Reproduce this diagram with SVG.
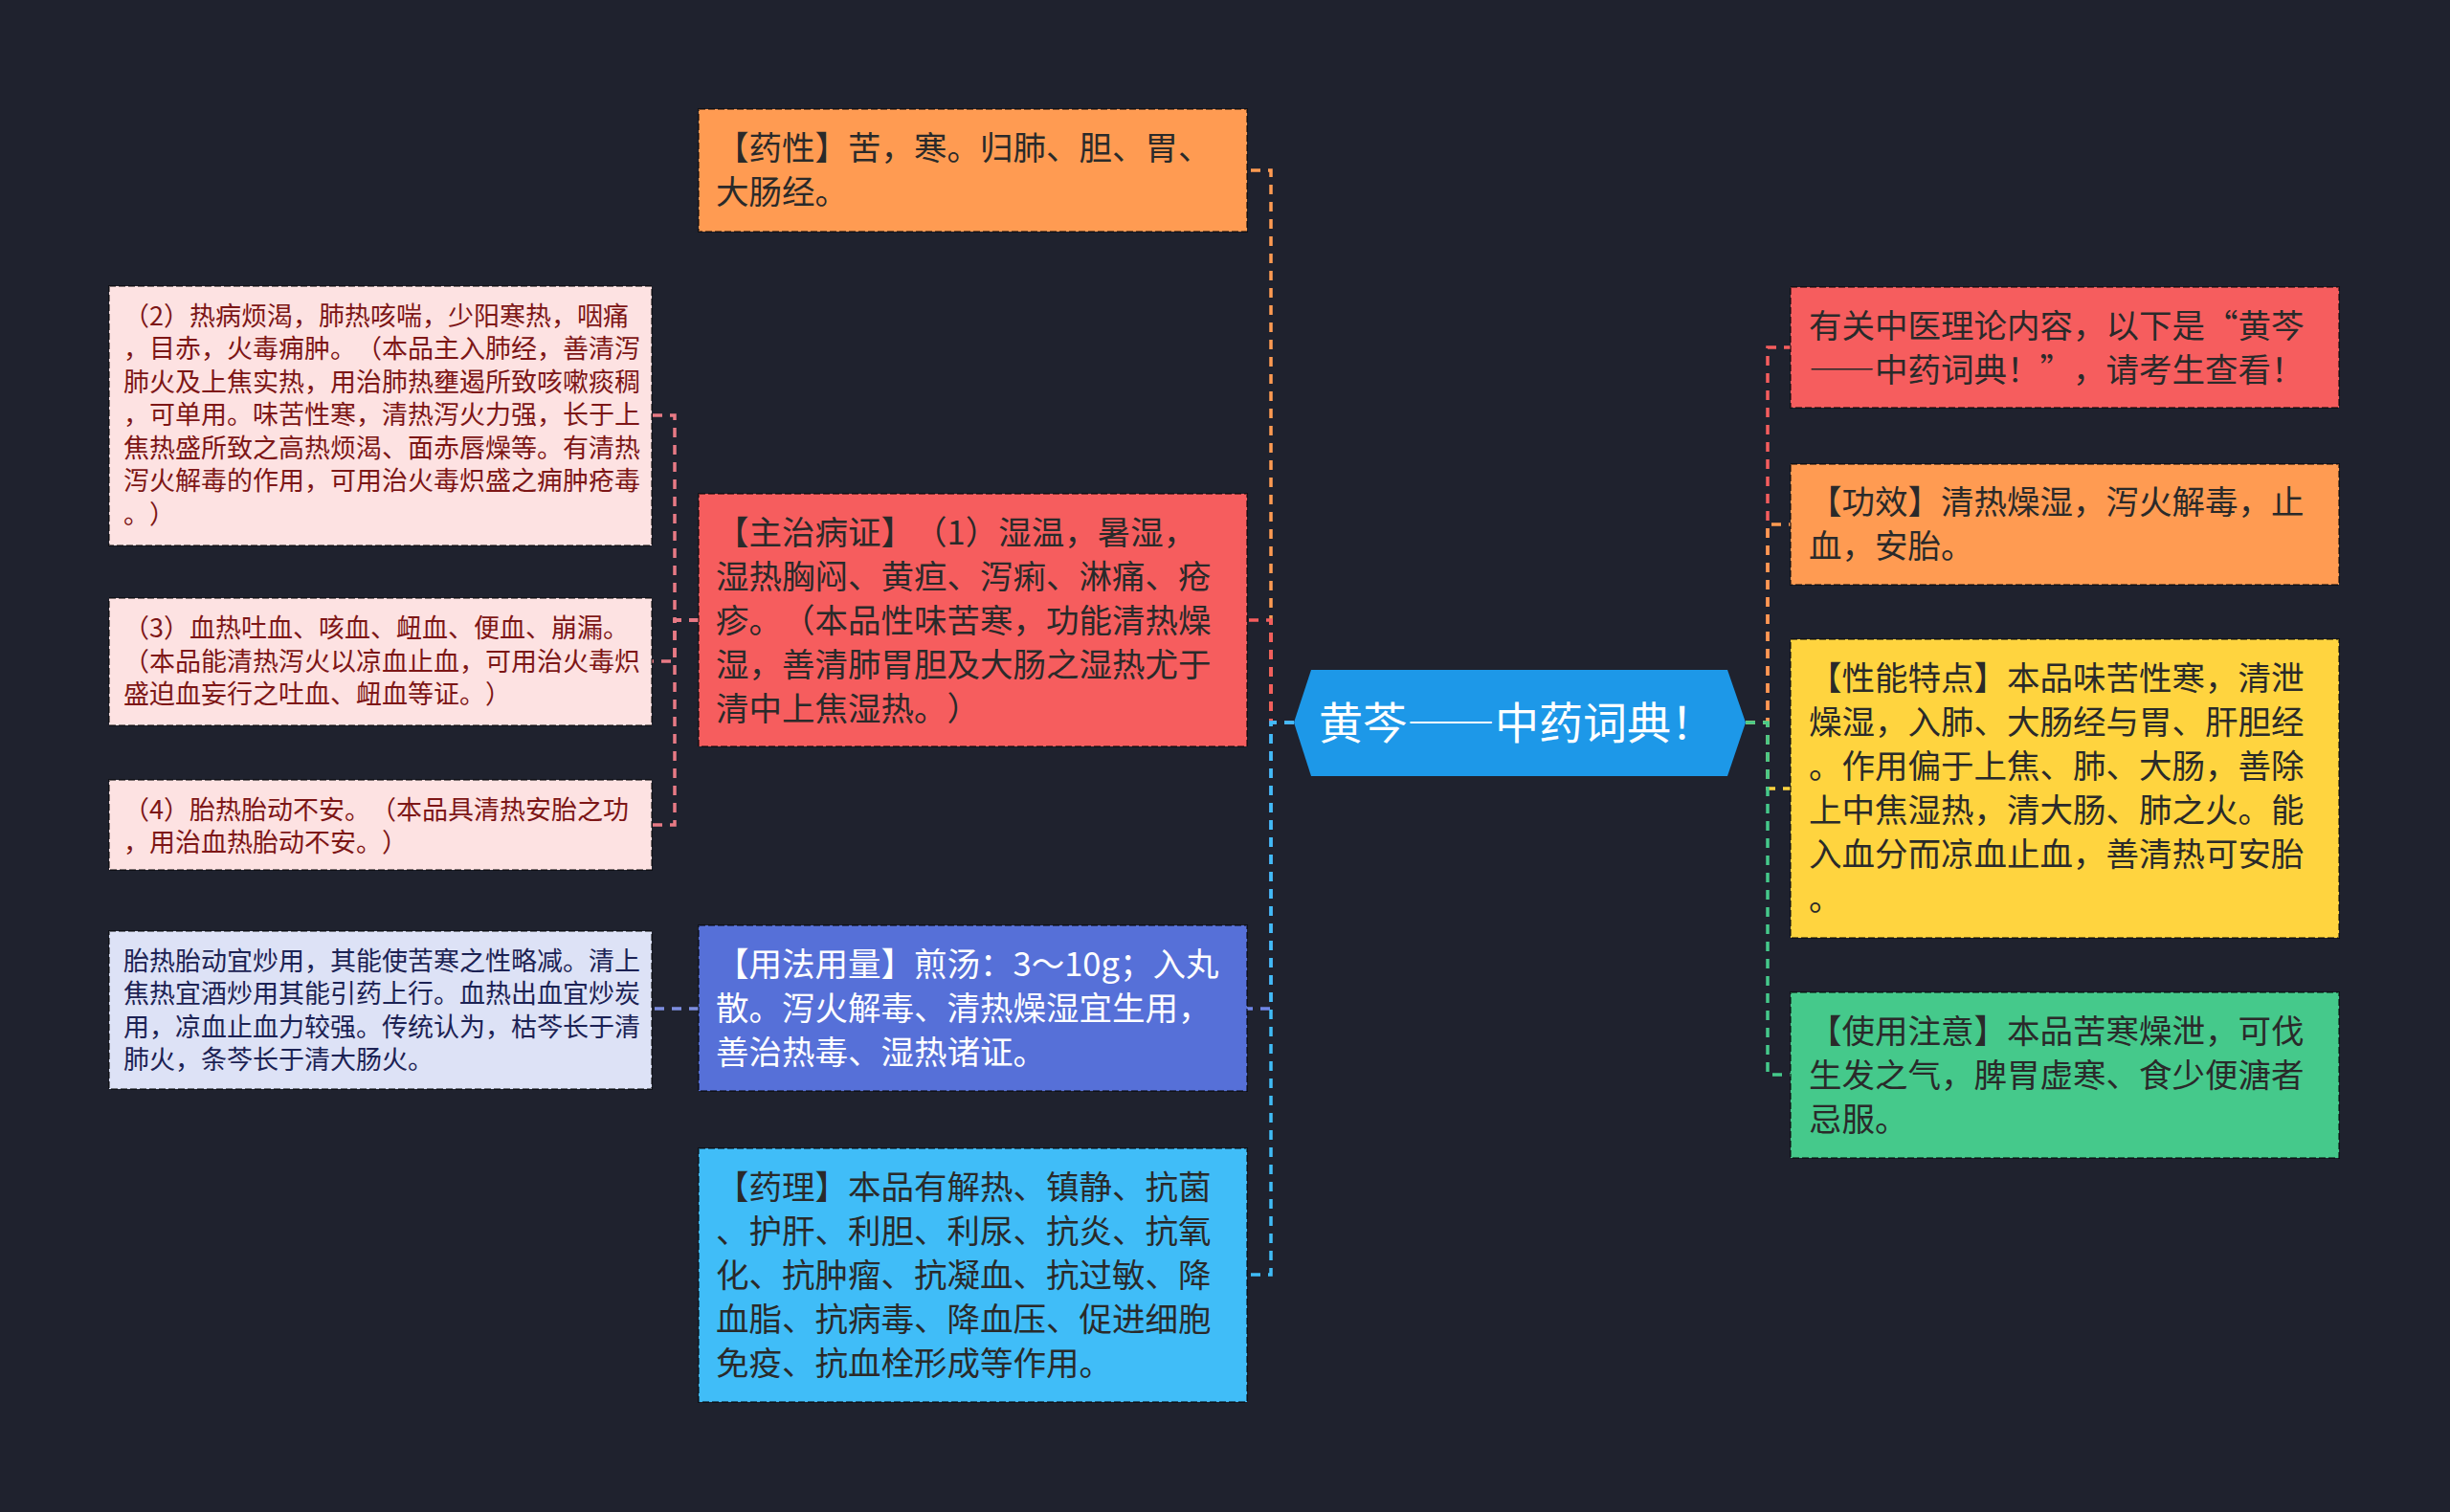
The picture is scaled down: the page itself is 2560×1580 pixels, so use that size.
<svg xmlns="http://www.w3.org/2000/svg" width="2560" height="1580" viewBox="0 0 2560 1580">
<style>
text{font-family:"Noto Sans CJK SC","Noto Sans",sans-serif;text-spacing-trim:space-all;font-feature-settings:"chws" 0,"halt" 0;}
.fw{font-feature-settings:"fwid" 1;}
.t{font-size:34.5px;fill:#2a2a2a;}
.tw{font-size:34.5px;fill:#ffffff;}
.ts{font-size:27px;fill:#7d1616;}
.tn{font-size:27px;fill:#1c2254;}
.box{stroke:rgba(0,0,0,0.5);stroke-width:2;stroke-dasharray:7 3;}
.c{fill:none;stroke-width:3.5;stroke-dasharray:10 8;}
</style>
<rect width="2560" height="1580" fill="#1f222e"/>
<g id="connectors">
<path class="c" stroke="#ff9b52" d="M1352 755 H1328 V178 H1303"/>
<path class="c" stroke="#f65d5e" d="M1352 755 H1328 V648 H1303"/>
<path class="c" stroke="#6f86e6" d="M1352 755 H1328 V1054 H1303"/>
<path class="c" stroke="#40bdf8" d="M1352 755 H1328 V1332 H1303"/>
<path class="c" stroke="#e87a85" d="M730 648 H705 V434 H681"/>
<path class="c" stroke="#e87a85" d="M730 648 H705 V691 H681"/>
<path class="c" stroke="#e87a85" d="M730 648 H705 V862 H681"/>
<path class="c" stroke="#7d8ee0" d="M730 1054 H681"/>
<path class="c" stroke="#f65d5e" d="M1824 755 H1847 V363 H1871"/>
<path class="c" stroke="#ff9b52" d="M1824 755 H1847 V548 H1871"/>
<path class="c" stroke="#ffd43f" d="M1824 755 H1847 V824 H1871"/>
<path class="c" stroke="#45c98b" d="M1824 755 H1847 V1123 H1871"/>
</g>
<g id="center">
<polygon points="1352,755 1370,700 1805,700 1824,755 1805,811 1370,811" fill="#1d98e8"/>
<text x="1378" y="772" font-size="46" fill="#ffffff">黄芩<tspan class="fw">——</tspan>中药词典！</text>
</g>
<g id="yaoxing">
<rect class="box" x="730" y="114" width="573" height="128" fill="#ff9b52"/>
<text class="t"><tspan x="748" y="167">【药性】苦，寒。归肺、胆、胃、</tspan><tspan x="748" y="213">大肠经。</tspan></text>
</g>
<g id="zhuzhi">
<rect class="box" x="730" y="516" width="573" height="264" fill="#f65d5e"/>
<text class="t"><tspan x="748" y="569">【主治病证】（1）湿温，暑湿，</tspan><tspan x="748" y="615">湿热胸闷、黄疸、泻痢、淋痛、疮</tspan><tspan x="748" y="661">疹。（本品性味苦寒，功能清热燥</tspan><tspan x="748" y="707">湿，善清肺胃胆及大肠之湿热尤于</tspan><tspan x="748" y="753">清中上焦湿热。）</tspan></text>
</g>
<g id="yongfa">
<rect class="box" x="730" y="967" width="573" height="173" fill="#5670d8"/>
<text class="tw"><tspan x="748" y="1020">【用法用量】煎汤：3～10g；入丸</tspan><tspan x="748" y="1066">散。泻火解毒、清热燥湿宜生用，</tspan><tspan x="748" y="1112">善治热毒、湿热诸证。</tspan></text>
</g>
<g id="yaoli">
<rect class="box" x="730" y="1200" width="573" height="265" fill="#40bdf8"/>
<text class="t"><tspan x="748" y="1253">【药理】本品有解热、镇静、抗菌</tspan><tspan x="748" y="1299">、护肝、利胆、利尿、抗炎、抗氧</tspan><tspan x="748" y="1345">化、抗肿瘤、抗凝血、抗过敏、降</tspan><tspan x="748" y="1391">血脂、抗病毒、降血压、促进细胞</tspan><tspan x="748" y="1437">免疫、抗血栓形成等作用。</tspan></text>
</g>
<g id="zhuzhi2">
<rect class="box" x="114" y="299" width="567" height="271" fill="#fde2e2"/>
<text class="ts"><tspan x="129" y="339.5">（2）热病烦渴，肺热咳喘，少阳寒热，咽痛</tspan><tspan x="129" y="374">，目赤，火毒痈肿。（本品主入肺经，善清泻</tspan><tspan x="129" y="408.5">肺火及上焦实热，用治肺热壅遏所致咳嗽痰稠</tspan><tspan x="129" y="443">，可单用。味苦性寒，清热泻火力强，长于上</tspan><tspan x="129" y="477.5">焦热盛所致之高热烦渴、面赤唇燥等。有清热</tspan><tspan x="129" y="512">泻火解毒的作用，可用治火毒炽盛之痈肿疮毒</tspan><tspan x="129" y="546.5">。）</tspan></text>
</g>
<g id="zhuzhi3">
<rect class="box" x="114" y="625" width="567" height="133" fill="#fde2e2"/>
<text class="ts"><tspan x="129" y="666">（3）血热吐血、咳血、衄血、便血、崩漏。</tspan><tspan x="129" y="700.5">（本品能清热泻火以凉血止血，可用治火毒炽</tspan><tspan x="129" y="735">盛迫血妄行之吐血、衄血等证。）</tspan></text>
</g>
<g id="zhuzhi4">
<rect class="box" x="114" y="815" width="567" height="94" fill="#fde2e2"/>
<text class="ts"><tspan x="129" y="855.5">（4）胎热胎动不安。（本品具清热安胎之功</tspan><tspan x="129" y="890">，用治血热胎动不安。）</tspan></text>
</g>
<g id="taire">
<rect class="box" x="114" y="973" width="567" height="165" fill="#dde2f6"/>
<text class="tn"><tspan x="129" y="1013.5">胎热胎动宜炒用，其能使苦寒之性略减。清上</tspan><tspan x="129" y="1048">焦热宜酒炒用其能引药上行。血热出血宜炒炭</tspan><tspan x="129" y="1082.5">用，凉血止血力较强。传统认为，枯芩长于清</tspan><tspan x="129" y="1117">肺火，条芩长于清大肠火。</tspan></text>
</g>
<g id="intro">
<rect class="box" x="1871" y="300" width="573" height="126" fill="#f65d5e"/>
<text class="t"><tspan x="1890" y="353">有关中医理论内容，以下是“黄芩</tspan><tspan x="1890" y="399"><tspan class="fw">——</tspan>中药词典！”，请考生查看！</tspan></text>
</g>
<g id="gongxiao">
<rect class="box" x="1871" y="485" width="573" height="126" fill="#ff9b52"/>
<text class="t"><tspan x="1890" y="537">【功效】清热燥湿，泻火解毒，止</tspan><tspan x="1890" y="583">血，安胎。</tspan></text>
</g>
<g id="xingneng">
<rect class="box" x="1871" y="668" width="573" height="312" fill="#ffd43f"/>
<text class="t"><tspan x="1890" y="721">【性能特点】本品味苦性寒，清泄</tspan><tspan x="1890" y="767">燥湿，入肺、大肠经与胃、肝胆经</tspan><tspan x="1890" y="813">。作用偏于上焦、肺、大肠，善除</tspan><tspan x="1890" y="859">上中焦湿热，清大肠、肺之火。能</tspan><tspan x="1890" y="905">入血分而凉血止血，善清热可安胎</tspan><tspan x="1890" y="951">。</tspan></text>
</g>
<g id="zhuyi">
<rect class="box" x="1871" y="1037" width="573" height="173" fill="#45c98b"/>
<text class="t"><tspan x="1890" y="1090">【使用注意】本品苦寒燥泄，可伐</tspan><tspan x="1890" y="1136">生发之气，脾胃虚寒、食少便溏者</tspan><tspan x="1890" y="1182">忌服。</tspan></text>
</g>
</svg>
